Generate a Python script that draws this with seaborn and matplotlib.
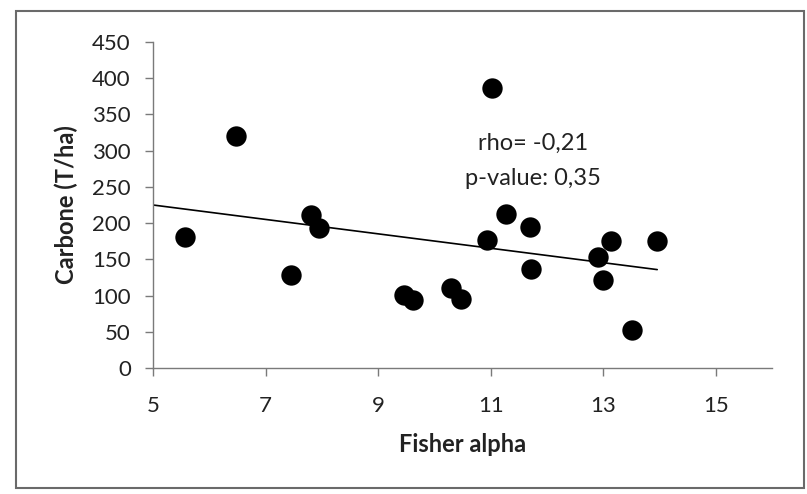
import matplotlib
matplotlib.use("Agg")
import matplotlib.pyplot as plt
import seaborn as sns
import pandas as pd
from matplotlib.patches import Rectangle

# ---- data ----
fisher_alpha = [5.57, 6.47, 7.46, 7.80, 7.95, 9.46, 9.62, 10.30, 10.47, 10.94,
                11.03, 11.28, 11.70, 11.72, 12.90, 13.00, 13.14, 13.51, 13.96]
carbone = [181, 320, 128, 211, 193, 101, 94, 111, 96, 177,
           386, 213, 194, 137, 154, 122, 175, 53, 176]
trend_x = [5.0, 13.96]
trend_y = [225, 136]
x_ticks = [5, 7, 9, 11, 13, 15]
y_ticks = [0, 50, 100, 150, 200, 250, 300, 350, 400, 450]
annotation_lines = ["rho= -0,21", "p-value: 0,35"]

df = pd.DataFrame({"Fisher alpha": fisher_alpha, "Carbone": carbone})
trend = pd.DataFrame({"x": trend_x, "y": trend_y})

sns.set_theme(style="white")
plt.rcParams["font.family"] = ["Lato", "DejaVu Sans"]

W, H = 807, 494
fig = plt.figure(figsize=(W / 100, H / 100), dpi=100)
fig.patch.set_facecolor("white")
ax = fig.add_axes([153 / W, 1 - 368.3 / H, (772 - 153) / W, (368.3 - 41.7) / H])

sns.lineplot(data=trend, x="x", y="y", ax=ax, color="black", linewidth=1.2)
sns.scatterplot(data=df, x="Fisher alpha", y="Carbone", ax=ax, color="black",
                s=215, edgecolor="black", linewidth=0, zorder=3)

ax.set_xlim(5, 16)
ax.set_ylim(0, 450)
ax.set_xticks(x_ticks)
ax.set_yticks(y_ticks)
ax.set_xticklabels([str(t) for t in x_ticks])
ax.set_yticklabels([str(t) for t in y_ticks])

for side in ["top", "right"]:
    ax.spines[side].set_visible(False)
for side in ["left", "bottom"]:
    ax.spines[side].set_color("#7a7a7a")
    ax.spines[side].set_linewidth(1.0)

ax.tick_params(axis="both", which="major", direction="out", length=6, width=1.0,
               color="#7a7a7a", labelsize=16, labelcolor="#222222")
ax.tick_params(axis="x", pad=14)
ax.tick_params(axis="y", pad=10)
ax.xaxis.set_ticks_position("bottom")
ax.yaxis.set_ticks_position("left")

ax.set_xlabel("Fisher alpha", fontsize=17, fontweight="bold", color="#222222", labelpad=12)
ax.set_ylabel("Carbone (T/ha)", fontsize=17, fontweight="bold", color="#222222", labelpad=10)

ax.text(11.75, 310, annotation_lines[0], ha="center", va="center", fontsize=17, color="#222222")
ax.text(11.75, 262, annotation_lines[1], ha="center", va="center", fontsize=17, color="#222222")

# outer chart frame
fig.patches.append(Rectangle((16 / W, 1 - 488 / H), (804 - 16) / W, (488 - 11) / H,
                             transform=fig.transFigure, fill=False,
                             edgecolor="#6a6a6a", linewidth=1.5))

fig.savefig("out.png", dpi=100, facecolor="white")
